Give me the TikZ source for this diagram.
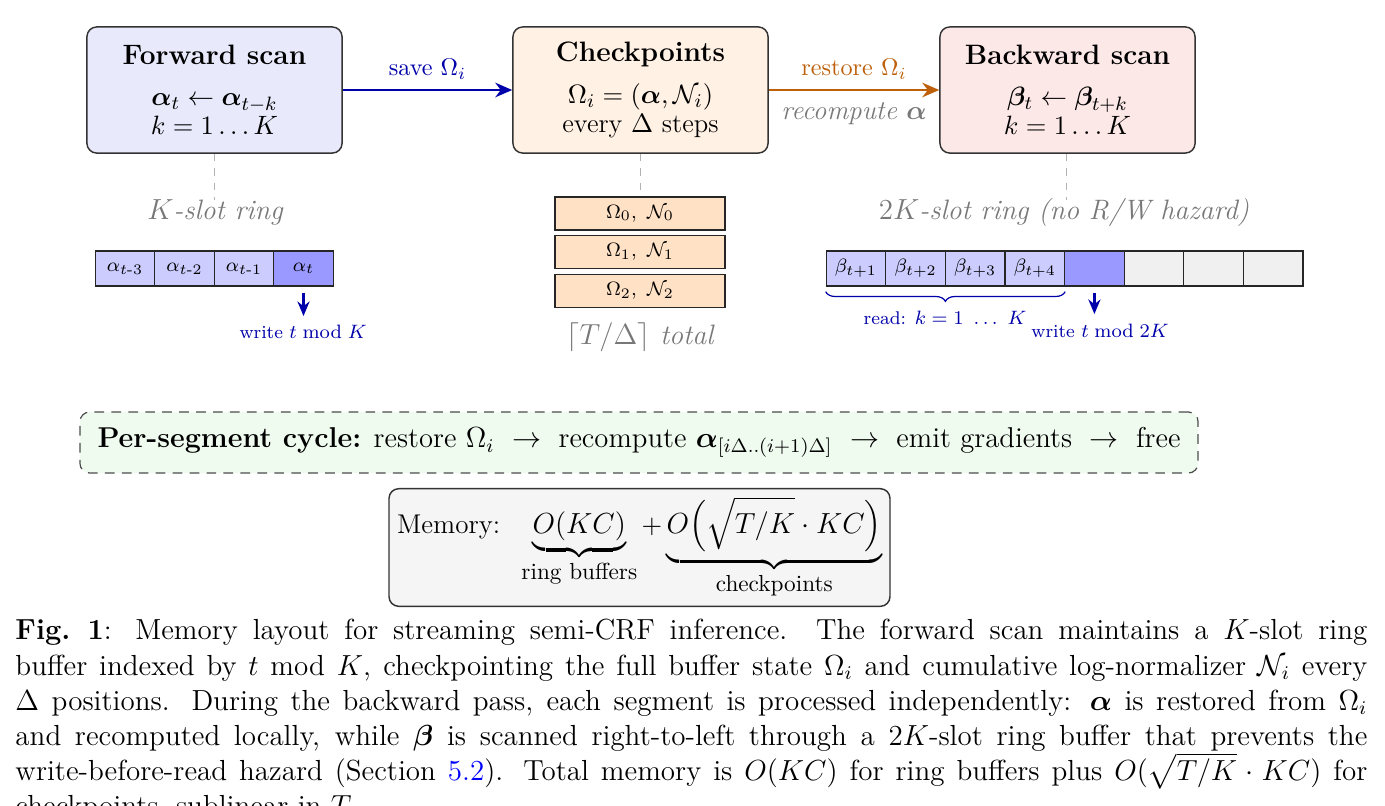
\documentclass[tikz,border=0pt]{standalone}
\usepackage{amsmath,amssymb,bm}
\usetikzlibrary{arrows.meta,decorations.pathreplacing,calc}
\definecolor{fwdfill}{RGB}{232,234,252}
\definecolor{ckfill}{RGB}{255,241,228}
\definecolor{bwdfill}{RGB}{253,232,232}
\definecolor{ringlight}{RGB}{204,204,255}
\definecolor{ringdark}{RGB}{153,153,255}
\definecolor{stackfill}{RGB}{255,226,198}
\definecolor{emptycell}{RGB}{240,240,240}
\definecolor{cyclefill}{RGB}{240,251,240}
\definecolor{memfill}{RGB}{245,245,245}
\definecolor{arrblue}{RGB}{0,0,170}
\definecolor{arrorange}{RGB}{190,95,10}
\definecolor{txtgray}{RGB}{120,120,120}
\definecolor{linkblue}{RGB}{0,0,255}
\newcommand\titlefont{\fontsize{11.6}{13.5}\selectfont\bfseries}
\newcommand\bodyfont{\fontsize{11}{12.5}\selectfont}
\tikzset{
  mainbox/.style={draw=black!80, rounded corners=4pt, line width=0.6pt,
    minimum width=105.4pt, minimum height=52.1pt, align=center, inner sep=2pt},
  cell/.style={draw=black!85, line width=0.5pt, minimum width=24.6pt,
    minimum height=14.5pt, inner sep=0pt, font=\fontsize{8}{9.5}\selectfont},
  stackbox/.style={draw=black!85, fill=stackfill, line width=0.5pt, minimum width=70.2pt,
    minimum height=13.6pt, inner sep=0pt, font=\fontsize{8}{9.5}\selectfont},
  graylbl/.style={text=txtgray, font=\fontsize{11.6}{13.5}\selectfont\itshape},
  guide/.style={draw=black!30, dashed, line width=0.4pt},
  mainarrow/.style={line width=1.1pt, -{Stealth[length=7pt,width=6pt]}},
  downarrow/.style={draw=arrblue, line width=1.1pt, -{Stealth[length=6pt,width=5pt]}},
  smallblue/.style={text=arrblue, font=\fontsize{7.6}{9}\selectfont},
}
\begin{document}
\begin{tikzpicture}[x=0.4132pt,y=-0.4132pt]
\useasboundingbox (0,0) rectangle (1385,805);
% main boxes
\node[mainbox, fill=fwdfill] (fwd) at (214.5,90)
  {\titlefont Forward scan\\[5pt]
   \bodyfont$\bm{\alpha}_t \leftarrow \bm{\alpha}_{t-k}$\\
   \bodyfont$k=1\ldots K$};
\node[mainbox, fill=ckfill] (ck) at (640.5,90)
  {\titlefont Checkpoints\\[5pt]
   \bodyfont$\Omega_i=(\bm{\alpha},\mathcal{N}_i)$\\
   \bodyfont every $\Delta$ steps};
\node[mainbox, fill=bwdfill] (bwd) at (1067.5,90)
  {\titlefont Backward scan\\[5pt]
   \bodyfont$\bm{\beta}_t \leftarrow \bm{\beta}_{t+k}$\\
   \bodyfont$k=1\ldots K$};
% arrows between boxes
\draw[mainarrow, draw=arrblue] (fwd.east) -- node[above=0.5pt, text=arrblue] {save $\Omega_i$} (ck.west);
\draw[mainarrow, draw=arrorange] (ck.east) -- node[above=0.5pt, text=arrorange] {restore $\Omega_i$}
  node[below=1.5pt, graylbl, font=\fontsize{11.2}{13}\selectfont\itshape] {recompute $\bm{\alpha}$} (bwd.west);
% guides and labels
\coordinate (gfwd) at (214,200);
\coordinate (gck) at (640,196);
\coordinate (gbwd) at (1066,200);
\draw[guide] (fwd.south -| gfwd) -- (gfwd);
\draw[guide] (ck.south -| gck) -- (gck);
\draw[guide] (bwd.south -| gbwd) -- (gbwd);
\node[graylbl] (lk) at (215,212) {$K$-slot ring};
\node[graylbl] (l2k) at (1064,212) {$2K$-slot ring (no R/W hazard)};
% forward ring
\node[cell, fill=ringlight] (a3) at (125,268.5) {$\alpha_{t\text{-}3}$};
\node[cell, fill=ringlight] (a2) at (184.5,268.5) {$\alpha_{t\text{-}2}$};
\node[cell, fill=ringlight] (a1) at (244,268.5) {$\alpha_{t\text{-}1}$};
\node[cell, fill=ringdark] (a0) at (303.5,268.5) {$\alpha_t$};
\coordinate (wf) at (303.5,316);
\draw[downarrow] ($(a0.south)+(0,6)$) -- (wf);
\node[smallblue] (wfl) at (303,332) {write $t \bmod K$};
% checkpoint stack
\node[stackbox] (s0) at (640,213.5) {$\Omega_0,\ \mathcal{N}_0$};
\node[stackbox] (s1) at (640,252) {$\Omega_1,\ \mathcal{N}_1$};
\node[stackbox] (s2) at (640,291) {$\Omega_2,\ \mathcal{N}_2$};
\node[graylbl] (tot) at (640,337) {$\lceil T/\Delta\rceil$ total};
% backward ring
\node[cell, fill=ringlight] (b1) at (856,268.5) {$\beta_{t+1}$};
\node[cell, fill=ringlight] (b2) at (915.6,268.5) {$\beta_{t+2}$};
\node[cell, fill=ringlight] (b3) at (975.2,268.5) {$\beta_{t+3}$};
\node[cell, fill=ringlight] (b4) at (1034.8,268.5) {$\beta_{t+4}$};
\node[cell, fill=ringdark] (b5) at (1094.4,268.5) {};
\node[cell, fill=emptycell] (b6) at (1154,268.5) {};
\node[cell, fill=emptycell] (b7) at (1213.6,268.5) {};
\node[cell, fill=emptycell] (b8) at (1273.2,268.5) {};
\draw[draw=arrblue, line width=0.5pt, decorate, decoration={brace, mirror, amplitude=4pt}]
  ($(b1.south west)+(0,5)$) -- ($(b4.south east)+(0,5)$);
\node[smallblue] (rd) at (945,318) {read: $k=1\ \ldots\ K$};
\coordinate (wb) at (1094.4,314);
\draw[downarrow] ($(b5.south)+(0,6)$) -- (wb);
\node[smallblue] (wbl) at (1100,331) {write $t \bmod 2K$};
% per-segment cycle
\node[draw=black!70, dashed, dash pattern=on 4pt off 3pt, rounded corners=4pt, fill=cyclefill,
  line width=0.5pt, minimum width=462pt, minimum height=25.2pt] (cyc) at (639,442.5)
  {\fontsize{11.85}{13.5}\selectfont\textbf{Per-segment cycle:} restore $\Omega_i$ $\;\rightarrow\;$ recompute
   $\bm{\alpha}_{[i\Delta..(i+1)\Delta]}$ $\;\rightarrow\;$ emit gradients $\;\rightarrow\;$ free};
% memory
\node[draw=black!80, rounded corners=4pt, fill=memfill, line width=0.6pt,
  minimum width=207pt, minimum height=47.5pt] (mem) at (639.5,547.5)
  {\fontsize{11.2}{13}\selectfont Memory:\enspace\;$\fontsize{11.8}{13}\selectfont\underbrace{O(KC)}_{\text{\fontsize{9.6}{11}\selectfont ring buffers}}
   +\underbrace{O\Bigl(\sqrt{T/K}\cdot KC\Bigr)}_{\text{\fontsize{9.6}{11}\selectfont checkpoints}}$};
% caption
\node[anchor=north west, inner sep=0pt, text width=558.6pt, align=justify,
  font=\fontsize{12}{14.5}\selectfont] (cap) at (15,619)
  {\textbf{Fig.\ 1}: Memory layout for streaming semi-CRF inference. The forward scan maintains a $K$-slot ring\linebreak
   buffer indexed by $t$ mod $K$, checkpointing the full buffer state $\Omega_i$ and cumulative log-normalizer $\mathcal{N}_i$ every\linebreak
   $\Delta$ positions. During the backward pass, each segment is processed independently: $\bm{\alpha}$ is restored from $\Omega_i$\linebreak
   and recomputed locally, while $\bm{\beta}$ is scanned right-to-left through a $2K$-slot ring buffer that prevents the\linebreak
   write-before-read hazard (Section \textcolor{linkblue}{5.2}). Total memory is $O(KC)$ for ring buffers plus $O(\sqrt{T/K}\cdot KC)$ for\linebreak
   checkpoints, sublinear in $T$.};
\end{tikzpicture}
\end{document}
